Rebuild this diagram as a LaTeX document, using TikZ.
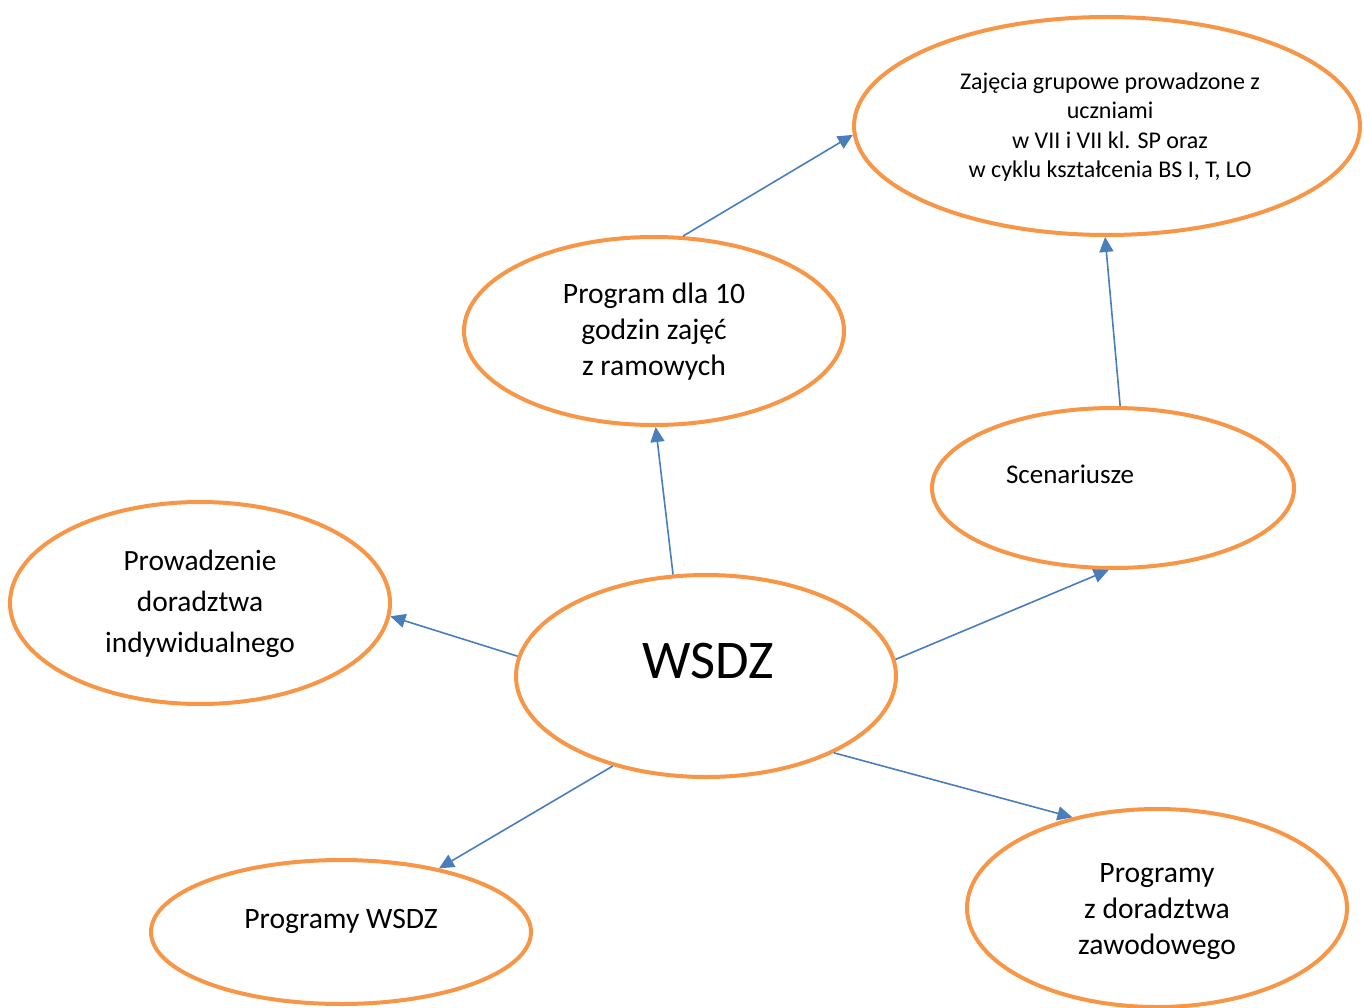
\documentclass[tikz,border=0pt]{standalone}
\usepackage{fontspec}
\setmainfont{Carlito}
\usetikzlibrary{shapes.geometric,arrows.meta}
\definecolor{orng}{HTML}{F79646}
\definecolor{blu}{HTML}{4A7EBB}
\tikzset{
  oval/.style={ellipse, draw=orng, line width=4pt, inner sep=0pt, fill=white},
  lbl/.style={align=center, inner sep=0pt, text=black},
  conn/.style={draw=blu, line width=1.6pt, -{Triangle[length=15pt,width=14pt]}},
}
\begin{document}
\begin{tikzpicture}[x=1pt,y=-1pt]
\useasboundingbox (0,0) rectangle (1364,1008);
% ellipses
\node[oval, minimum width=506pt, minimum height=218pt] (top) at (1107,126) {};
\node[oval, minimum width=380pt, minimum height=188pt] (prog10) at (654,331) {};
\node[oval, minimum width=362pt, minimum height=160pt] (scen) at (1113,488) {};
\node[oval, minimum width=380pt, minimum height=202pt] (prow) at (200,603) {};
\node[oval, minimum width=380pt, minimum height=202pt] (wsdz) at (706,676) {};
\node[oval, minimum width=380pt, minimum height=144pt] (pw) at (341,932) {};
\node[oval, minimum width=380pt, minimum height=198pt] (pd) at (1157,908) {};
% labels
\node[lbl, font=\fontsize{24}{29.3}\selectfont] (toptxt) at (1110,127) {Zajęcia grupowe prowadzone z\\uczniami\\w VII i VII kl. SP oraz\\w cyklu kształcenia BS I, T, LO};
\node[lbl, font=\fontsize{29.6}{36}\selectfont] (prog10txt) at (654,332) {Program dla 10\\godzin zajęć\\z ramowych};
\node[lbl, font=\fontsize{27}{30}\selectfont] (scentxt) at (1070,474) {Scenariusze};
\node[lbl, font=\fontsize{29.4}{41}\selectfont] (prowtxt) at (200,604) {Prowadzenie\\doradztwa\\indywidualnego};
\node[lbl, font=\fontsize{54.5}{60}\selectfont] (wsdztxt) at (708,661) {WSDZ};
\node[lbl, font=\fontsize{29.6}{34}\selectfont] (pwtxt) at (341,921) {Programy WSDZ};
\node[lbl, font=\fontsize{29.6}{36}\selectfont] (pdtxt) at (1157,912) {Programy\\z doradztwa\\zawodowego};
% connectors
\draw[conn] (prog10.73.6) -- (top.182.7);
\draw[conn] (scen.85) -- (top.269);
\draw[conn] (wsdz.108) -- (prog10.271);
\draw[conn] (wsdz.174.4) -- (prow.356.8);
\draw[conn] (wsdz.5.3) -- (scen.267);
\draw[conn] (wsdz.224) -- (pw.33.4);
\draw[conn] (wsdz.329.2) -- (pd.133);
\end{tikzpicture}
\end{document}
